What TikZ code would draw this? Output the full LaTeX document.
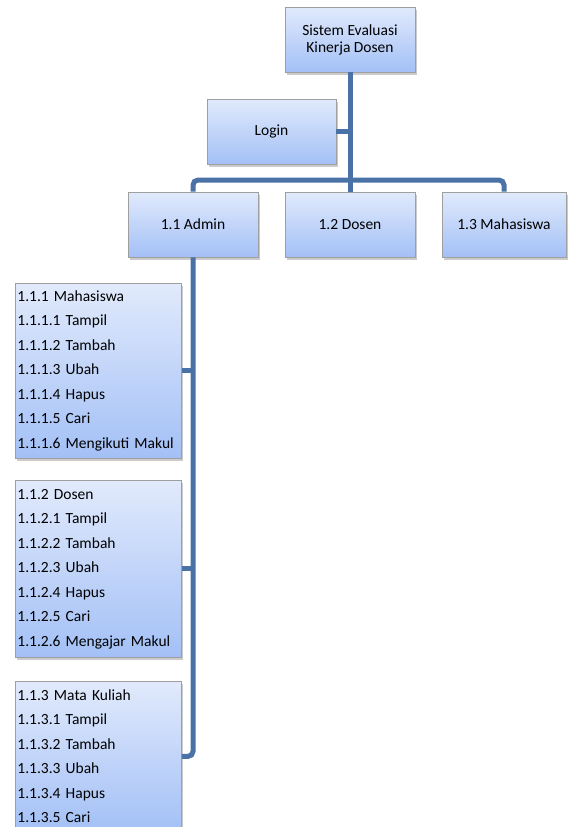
\documentclass[tikz,border=0pt]{standalone}
\usepackage{fontspec}
\setmainfont{Carlito}
\usetikzlibrary{shadows}
\definecolor{linkblue}{RGB}{74,114,166}
\definecolor{boxtop}{RGB}{225,234,252}
\definecolor{boxbot}{RGB}{163,192,246}
\tikzset{>=latex,
  box/.style={draw=gray!75,line width=0.8pt,top color=boxtop,bottom color=boxbot,
    drop shadow={shadow xshift=2pt,shadow yshift=-3pt,fill=black!45,opacity=0.45},
    font=\fontsize{15.5}{17}\selectfont,align=center,inner sep=2pt,
    minimum width=130pt,minimum height=65pt},
  listbox/.style={box,font=\fontsize{15.5}{24.5}\selectfont,align=left,
    text width=162pt,minimum width=166pt,anchor=north west},
  link/.style={draw=linkblue,line width=5pt}
}
\begin{document}
\begin{tikzpicture}[x=1pt,y=-1pt]
  \useasboundingbox (0,0) rectangle (569,827);
  \node[box] (top) at (350,39.5) {Sistem Evaluasi\\Kinerja Dosen};
  \node[box,minimum width=129pt] (login) at (271.5,131.5) {Login};
  \node[box] (adm) at (193,224.5) {1.1 Admin};
  \node[box] (dsn) at (350,224.5) {1.2 Dosen};
  \node[box,minimum width=124pt] (mhs) at (504,224.5) {1.3 Mahasiswa};
  \coordinate (bar) at (350,180);
  \node[listbox,minimum height=175pt] (mhsadm) at (15,283) {1.1.1 Mahasiswa\\1.1.1.1 Tampil\\1.1.1.2 Tambah\\1.1.1.3 Ubah\\1.1.1.4 Hapus\\1.1.1.5 Cari\\1.1.1.6 Mengikuti Makul};
  \node[listbox,minimum height=177pt] (dsnadm) at (15,480) {1.1.2 Dosen\\1.1.2.1 Tampil\\1.1.2.2 Tambah\\1.1.2.3 Ubah\\1.1.2.4 Hapus\\1.1.2.5 Cari\\1.1.2.6 Mengajar Makul};
  \node[listbox,minimum height=150pt] (mkadm) at (15,681) {1.1.3 Mata Kuliah\\1.1.3.1 Tampil\\1.1.3.2 Tambah\\1.1.3.3 Ubah\\1.1.3.4 Hapus\\1.1.3.5 Cari};
  \draw[link] (top.south) -- (dsn.north);
  \draw[link] (login.east) -- (login.east -| top.south);
  \draw[link,rounded corners=5pt] (adm.north) |- (bar) -| (mhs.north);
  \draw[link] (mhsadm.east) -- (mhsadm.east -| adm.south);
  \draw[link] (dsnadm.east) -- (dsnadm.east -| adm.south);
  \draw[link,rounded corners=5pt] (adm.south) |- (mkadm.east);
\end{tikzpicture}
\end{document}
